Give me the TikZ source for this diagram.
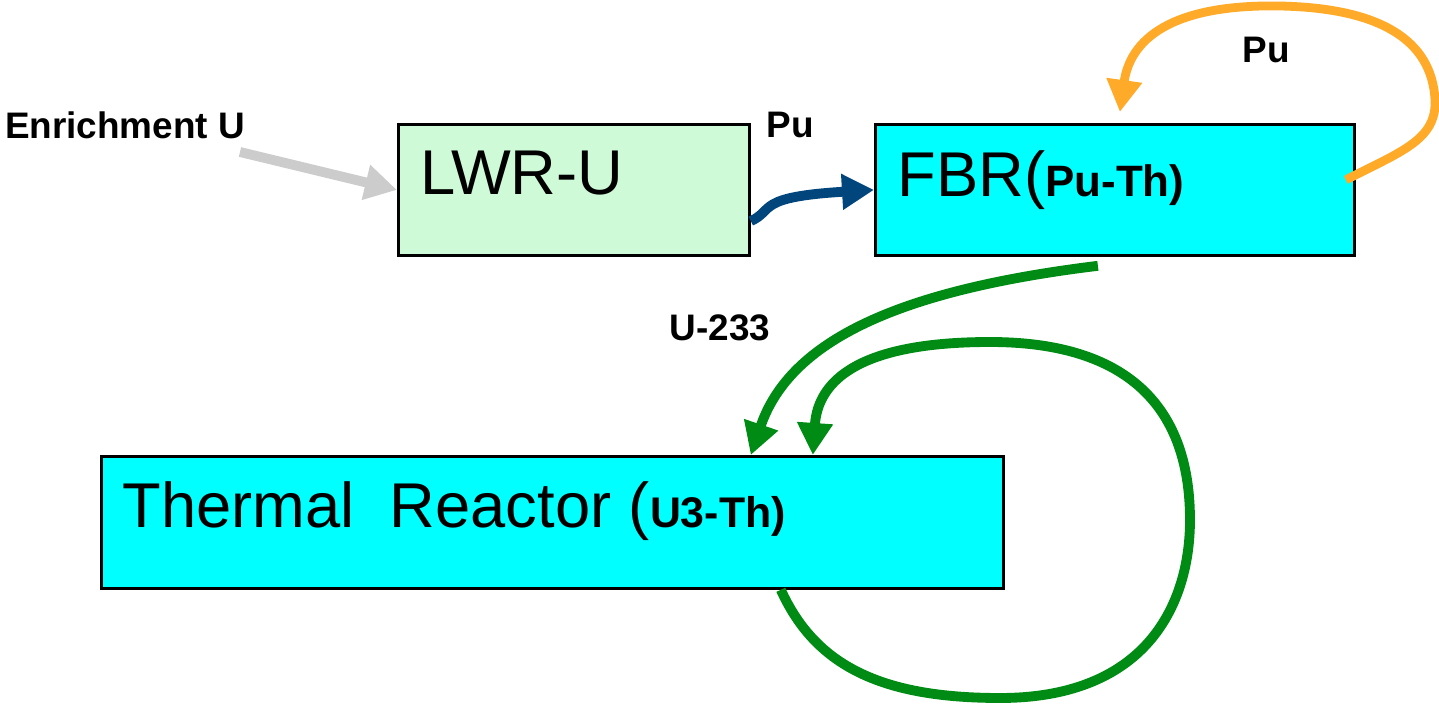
\documentclass[tikz,border=0pt]{standalone}
\usepackage{fontspec}
\setmainfont{Liberation Sans}
\definecolor{lwrgreen}{RGB}{206,250,216}
\definecolor{fbrcyan}{RGB}{0,255,255}
\definecolor{puorange}{RGB}{255,170,40}
\definecolor{ugreen}{RGB}{0,140,20}
\definecolor{publue}{RGB}{0,70,125}
\definecolor{feedgray}{RGB}{204,204,204}
\usetikzlibrary{arrows.meta,positioning,calc}
\tikzset{
  reactorbox/.style={draw,line width=0.8pt,inner sep=0pt,anchor=north west},
  bigtext/.style={anchor=base west,inner sep=0pt,font=\fontsize{18}{20}\selectfont},
  flowlabel/.style={font=\fontsize{10.5}{12}\selectfont\bfseries},
  flow/.style={line width=2.8pt,-{Triangle[length=0.32cm,width=0.34cm]}}
}
\begin{document}
\begin{tikzpicture}
  \useasboundingbox (0,0) rectangle (14.39,-7.07);
  %% Reactors
  \node[reactorbox,fill=lwrgreen,minimum width=3.51cm,minimum height=1.31cm]
        (lwr) at (3.97,-1.23) {};
  \node[reactorbox,fill=fbrcyan,minimum width=4.79cm,minimum height=1.31cm]
        (fbr) at (8.74,-1.23) {};
  \node[reactorbox,fill=fbrcyan,minimum width=9.02cm,minimum height=1.32cm]
        (thermal) at (1.00,-4.55) {};
  \node[bigtext] (lwrtext) at (4.20,-1.95) {LWR-U};
  \node[bigtext] (fbrtext) at (8.97,-1.96)
        {FBR({\fontsize{12.5}{14}\selectfont\bfseries Pu-Th)}};
  \node[bigtext] (thermaltext) at (1.22,-5.27)
        {Thermal\ \ Reactor ({\fontsize{12.2}{14}\selectfont\bfseries U3-Th)}};
  %% Labels
  \node[flowlabel] (enrich) at (1.25,-1.25) {Enrichment U};
  \node[flowlabel] (pulwr) at (7.90,-1.25) {Pu};
  \node[flowlabel] (pufbr) at (12.66,-0.50) {Pu};
  \node[flowlabel] (uthree) at (7.20,-3.28) {U-233};
  %% Flows
  \coordinate (feed) at (2.40,-1.52);
  \draw[flow,feedgray] (feed) -- (lwr.west);
  \draw[flow,publue] (lwr.-10.8) .. controls (7.75,-2.10) and (7.55,-1.97) .. (fbr.west);
  \draw[flow,puorange,line width=2.5pt]
        ($(fbr.east)+(-0.10,0.10)$) .. controls (14.00,-1.52) and (14.37,-1.40) .. (14.35,-1.00)
        .. controls (14.32,-0.40) and (13.80,-0.08) .. (12.80,-0.06)
        .. controls (11.70,-0.04) and (11.30,-0.40) .. ($(fbr.north)+(0.05,0.11)$);
  \draw[flow,ugreen]
        ($(fbr.south)+(-0.17,-0.09)$) .. controls (9.00,-2.90) and (7.90,-3.40) ..
        ($(thermal.north east)+(-2.54,0)$);
  \draw[flow,ugreen]
        ($(thermal.south east)+(-2.24,0)$) .. controls (8.15,-6.65) and (8.80,-6.98) .. (10.00,-6.98)
        .. controls (11.50,-6.98) and (11.90,-6.00) .. (11.90,-5.20)
        .. controls (11.90,-4.00) and (11.20,-3.42) .. (9.90,-3.42)
        .. controls (8.60,-3.42) and (8.18,-3.80) .. ($(thermal.north east)+(-1.92,0)$);
\end{tikzpicture}
\end{document}
